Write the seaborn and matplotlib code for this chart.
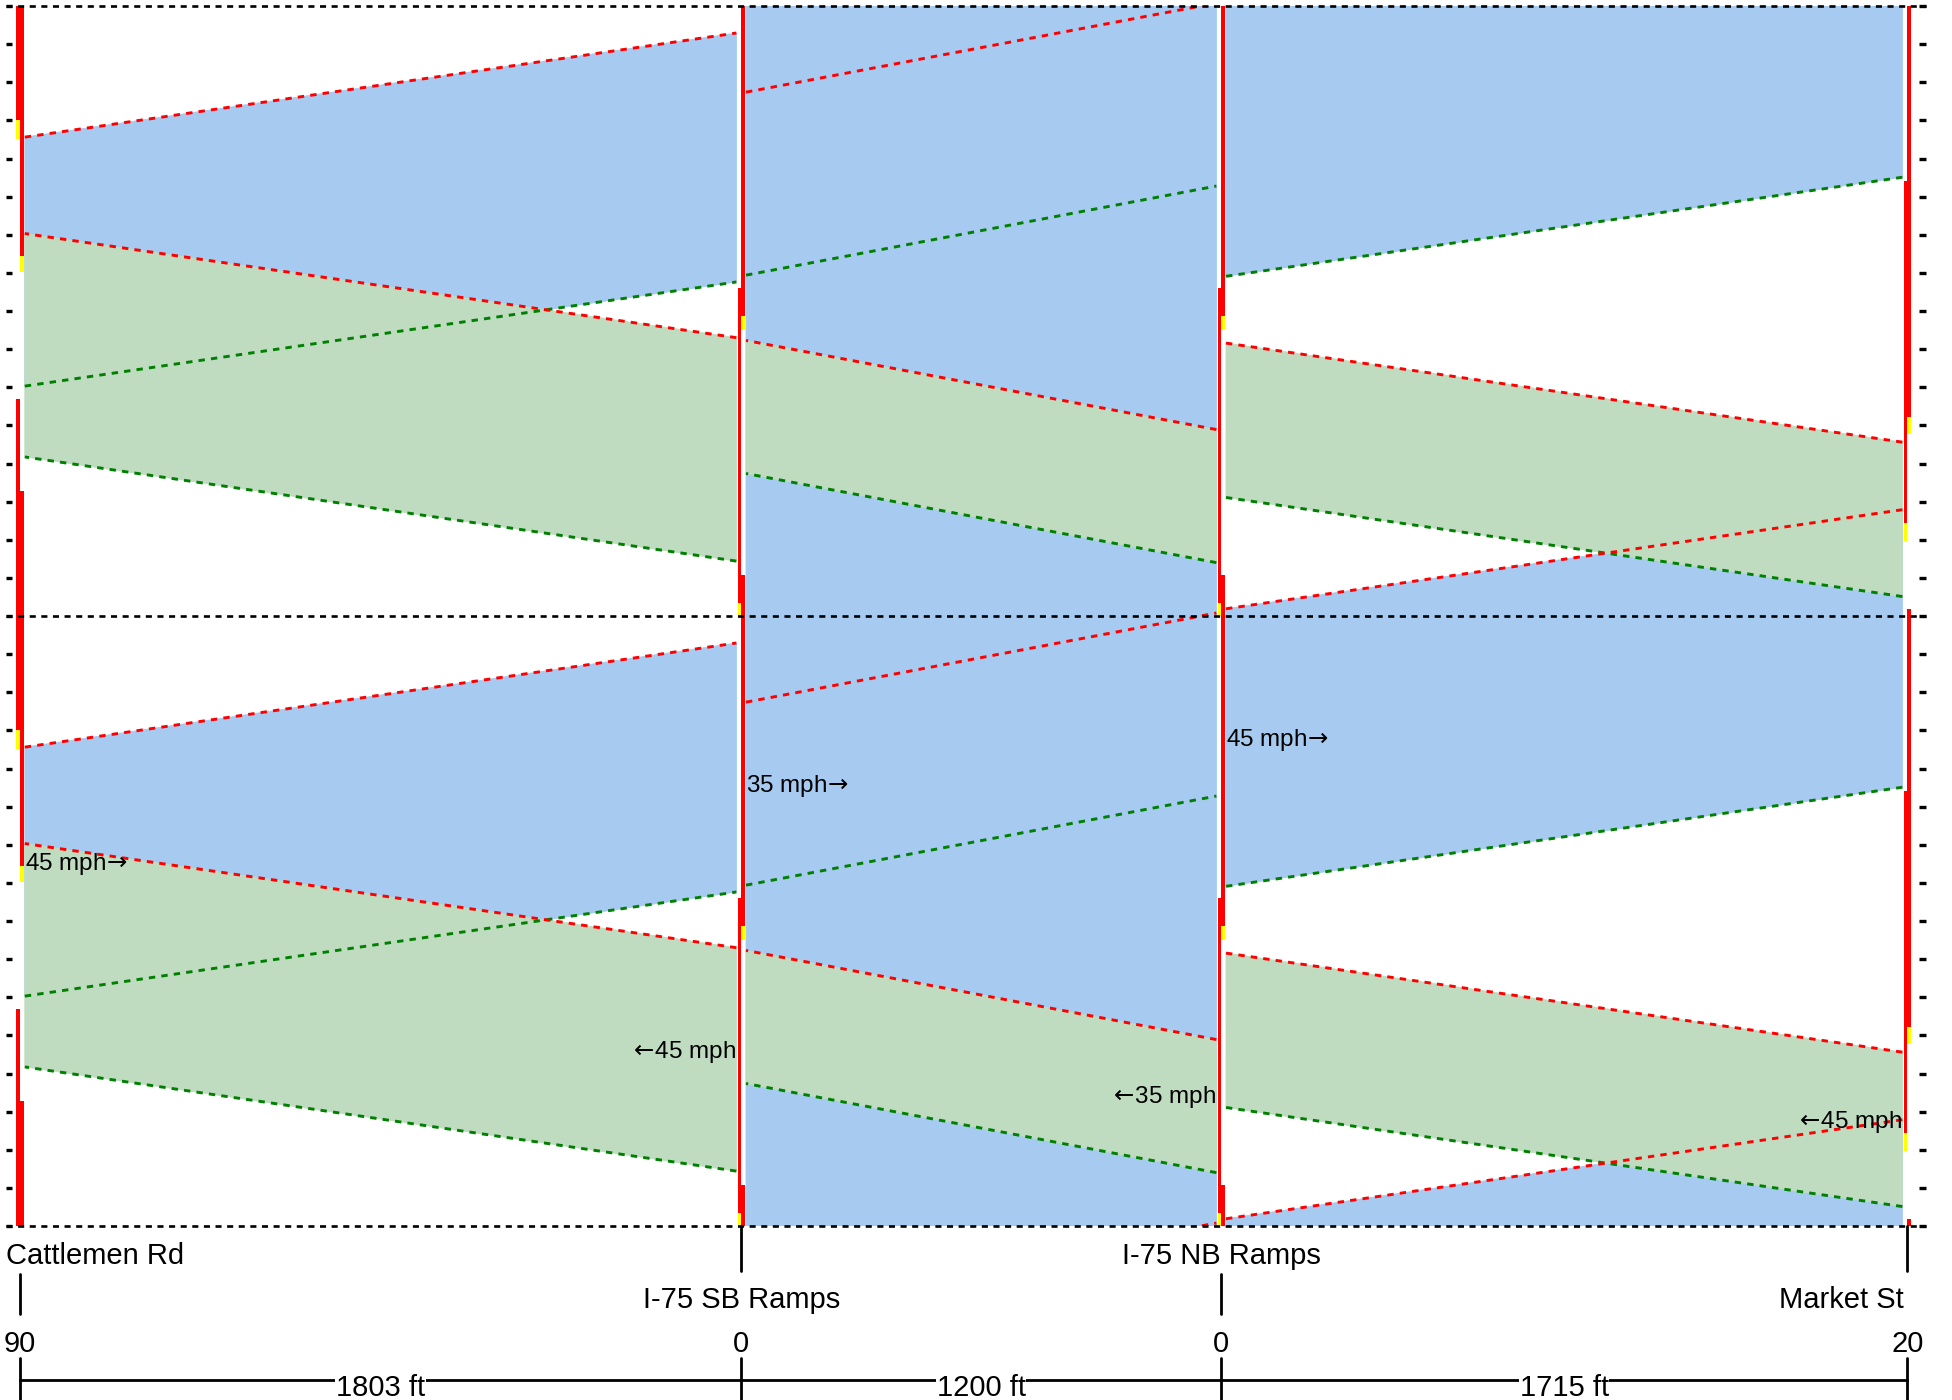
"""Time-space diagram: Cattlemen Rd to Market St (two cycles)."""

import matplotlib.pyplot as plt
import numpy as np
import pandas as pd
import seaborn as sns

sns.set_theme(style="white")
plt.rcParams["font.family"] = ["Liberation Sans", "DejaVu Sans"]

CYCLE = 160  # s
GAP = 12  # ft between stop bar and flow band

streets = ["Cattlemen Rd", "I-75 SB Ramps", "I-75 NB Ramps", "Market St"]
offsets = [90, 0, 0, 20]
link_ft = [1803, 1200, 1715]
speed_mph = [45, 35, 45]

# signal timing, cycle seconds: (green start, yellow start, red start)
nb_phase = [(56.8, 125.0, 130.0), (86.0, 160.0, 163.4), (86.0, 160.0, 163.4), (114.1, 179.7, 184.5)]
sb_phase = [(32.7, 90.1, 94.4), (10.8, 75.1, 78.6), (10.8, 75.1, 78.6), (1.8, 47.7, 52.2)]

# through bands per link, departure at upstream stop bar: (first car, last car)
nb_band = [(60.3, 125.6), (89.4, 137.4), (89.1, 161.9)]
sb_band = [(14.4, 73.0), (14.0, 48.9), (5.1, 45.6)]

# flow fills per link (link 2 NB carries ramp traffic the whole cycle)
nb_flow = [(60.3, 125.6), (0.0, 160.0), (89.1, 161.9)]
sb_flow = [(14.4, 73.0), (14.0, 48.9), (5.1, 45.6)]

# where the speed labels sit (cycle seconds, lower cycle)
nb_label_t = [95.0, 115.5, 127.6]
sb_label_t = [45.6, 33.9, 27.4]

BLUE = "#A6CAF0"
GREEN = "#C0DCC0"

pos = np.concatenate([[0], np.cumsum(link_ft)])
travel = [L / (v * 5280 / 3600) for L, v in zip(link_ft, speed_mph)]

fig = plt.figure(figsize=(19.52, 14), dpi=100)
ax = fig.add_axes([0, 174 / 1400, 1, 1220 / 1400])

# flow bands
for i in range(len(link_ft)):
    x0, x1 = pos[i] + GAP, pos[i + 1] - GAP
    tt = travel[i]
    for k in range(-1, 3):
        a, b = nb_flow[i][0] + k * CYCLE, nb_flow[i][1] + k * CYCLE
        ax.fill([x0, x1, x1, x0], [a, a + tt, b + tt, b], color=BLUE, lw=0.6)
for i in range(len(link_ft)):
    x0, x1 = pos[i] + GAP, pos[i + 1] - GAP
    tt = travel[i]
    for k in range(-1, 3):
        a, b = sb_flow[i][0] + k * CYCLE, sb_flow[i][1] + k * CYCLE
        ax.fill([x1, x0, x0, x1], [a, a + tt, b + tt, b], color=GREEN, lw=0.6)

# band edges as dashed trajectories
rows = []
seg = 0
for i in range(len(link_ft)):
    x0, x1 = pos[i] + GAP, pos[i + 1] - GAP
    tt = travel[i]
    for band, xs in ((nb_band[i], (x0, x1)), (sb_band[i], (x1, x0))):
        for t0, edge in zip(band, ("first", "last")):
            for k in range(-1, 3):
                start = t0 + k * CYCLE
                rows.append({"seg": seg, "dist": xs[0], "time": start, "edge": edge})
                rows.append({"seg": seg, "dist": xs[1], "time": start + tt, "edge": edge})
                seg += 1
edges = pd.DataFrame(rows)

n_before = len(ax.lines)
sns.lineplot(
    data=edges, x="dist", y="time", units="seg", estimator=None, sort=False,
    hue="edge", palette={"first": "#008000", "last": "#FF0000"},
    legend=False, linewidth=2.1, ax=ax,
)
for line in ax.lines[n_before:]:
    line.set_dashes([2.2, 2.1])

# signal bars: NB on the left of the stop line, SB on the right
for d, nb, sb in zip(pos, nb_phase, sb_phase):
    for x_left, width, (g, y, r) in ((d - 9, 9, nb), (d, 10, sb)):
        for k in range(-1, 3):
            off = k * CYCLE
            ax.bar(x_left, g + CYCLE - r, width=width, bottom=r + off,
                   align="edge", color="#FF0000", lw=0)
            ax.bar(x_left, r - y, width=width, bottom=y + off,
                   align="edge", color="#FFFF00", lw=0)

ax.set_xlim(-50, 4830)
ax.set_ylim(0, 2 * CYCLE)
ax.axis("off")

# cycle lines and time ticks
ax.hlines([0, CYCLE, 2 * CYCLE], -35, 4765, colors="black", lw=1.9,
          linestyles=(0, (2.3, 2.1)), clip_on=False, zorder=5)
ticks = np.arange(0, 2 * CYCLE + 1, 10)
ax.hlines(ticks, -35, -20, colors="black", lw=2.4, clip_on=False, zorder=5)
ax.hlines(ticks, 4747, 4765, colors="black", lw=2.4, clip_on=False, zorder=5)

# speed labels
for i, v in enumerate(speed_mph):
    ax.text(pos[i] + GAP, nb_label_t[i], f"{v} mph" + r"$\!\rightarrow$", fontsize=17.5,
            ha="left", va="center", color="black", zorder=6)
    ax.text(pos[i + 1] - GAP, sb_label_t[i], r"$\leftarrow\!$" + f"{v} mph", fontsize=17.5,
            ha="right", va="center", color="black", zorder=6)

# street names, offsets and distances below the diagram
name_row = [-10.0, -21.5, -10.0, -21.5]
name_x = [-35, pos[1], pos[2], pos[3] - 8]
name_ha = ["left", "center", "center", "right"]
for name, x, yb, ha in zip(streets, name_x, name_row, name_ha):
    ax.text(x, yb, name, fontsize=21, ha=ha, va="baseline", color="black")

for d, yb in zip(pos, name_row):
    if yb == -10.0:
        y_top, y_bot = -12.5, -23.2
    else:
        y_top, y_bot = 0, -11.7
    ax.plot([d, d], [y_top, y_bot], color="black", lw=2.0, clip_on=False)
    ax.plot([d, d], [-34.5, -46], color="black", lw=2.0, clip_on=False)

for d, off in zip(pos, offsets):
    ax.text(d, -33.0, str(off), fontsize=21, ha="center", va="baseline", color="black")

ax.plot([pos[0], pos[-1]], [-40.3, -40.3], color="black", lw=2.0, clip_on=False)
for i, L in enumerate(link_ft):
    ax.text((pos[i] + pos[i + 1]) / 2, -44.5, f"{L} ft", fontsize=21, ha="center",
            va="baseline", color="black",
            bbox=dict(facecolor="white", edgecolor="none", pad=0.5))

fig.savefig("out.png", dpi=100)
